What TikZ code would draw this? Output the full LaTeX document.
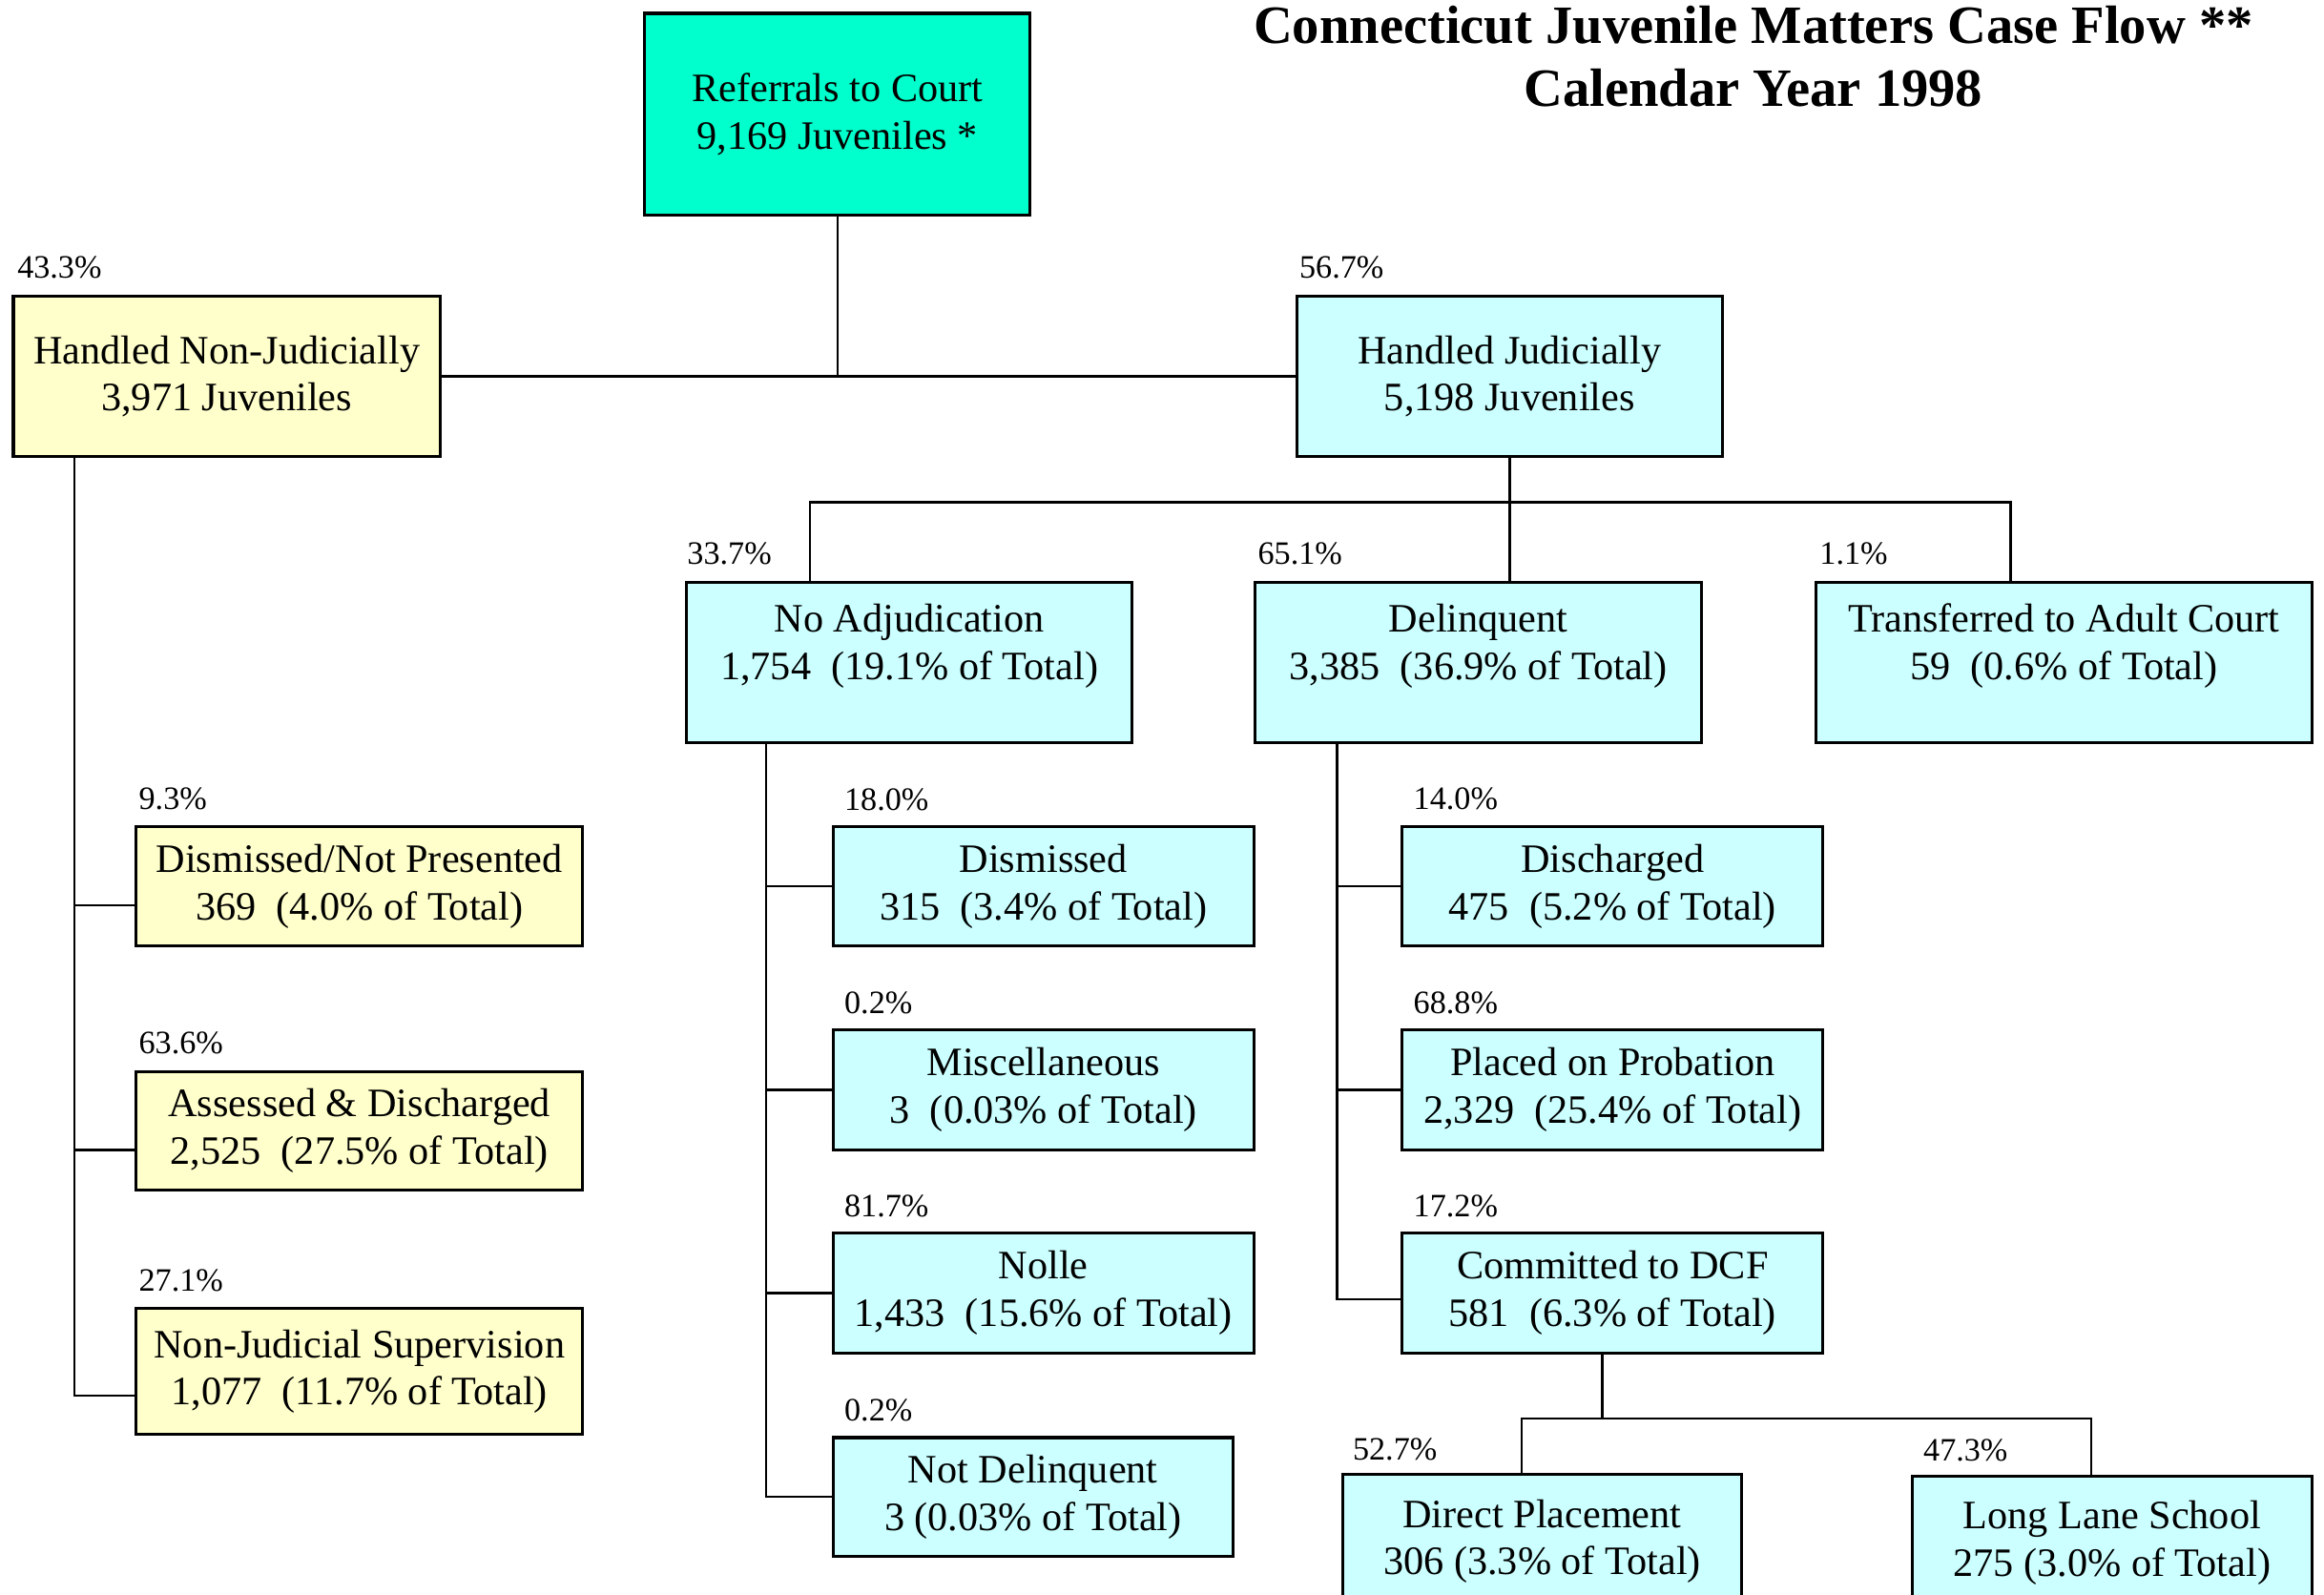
\documentclass[tikz,border=0pt]{standalone}
\usepackage{fontspec}
\setmainfont{Liberation Serif}
\usetikzlibrary{positioning,calc}
\definecolor{refgreen}{RGB}{0,255,204}
\definecolor{nonjudyellow}{RGB}{255,255,204}
\definecolor{judcyan}{RGB}{204,255,255}

\begin{document}
\begin{tikzpicture}[x=0.5pt,y=-0.5pt,line width=0.75pt,
       caja/.style={rectangle,draw,line width=1pt,align=center,inner sep=0pt,
                    font=\fontsize{13.6}{16}\selectfont},
       amarilla/.style={caja,fill=nonjudyellow},
       celeste/.style={caja,fill=judcyan},
       alta/.style={text depth=14pt},
       pct/.style={inner sep=0pt,font=\fontsize{11}{13}\selectfont}]
\useasboundingbox (0,0) rectangle (1568,1075.6);

%% Title
  \node [font=\bfseries\fontsize{18.2}{21.5}\selectfont,align=center,anchor=north,inner sep=0pt]
        (title) at (1183,3) {Connecticut Juvenile Matters Case Flow **\\Calendar Year 1998};

%% Top of the flow
  \node [caja,fill=refgreen,minimum width=130pt,minimum height=68pt] (referrals) at (565,77) {Referrals to Court\\9,169 Juveniles *};
  \node [amarilla,minimum width=144pt,minimum height=54pt] (nonjud) at (153,254) {Handled Non-Judicially\\3,971 Juveniles};
  \node [celeste,minimum width=143.5pt,minimum height=54pt] (jud) at (1018.5,254) {Handled Judicially\\5,198 Juveniles};
  \node [pct] (pnonjud) [above right=5pt and 1.5pt of nonjud.north west] {43.3\%};
  \node [pct] (pjud) [above right=5pt and 1pt of jud.north west] {56.7\%};
  \draw (nonjud.east) -- (jud.west);
  \draw (referrals.south) -- (referrals.south |- jud.west);

%% Handled judicially
  \node [celeste,alta,minimum width=150.5pt,minimum height=54pt] (noadj) at (613.5,447) {No Adjudication\\1,754\ \ (19.1\% of Total)};
  \node [celeste,alta,minimum width=150.5pt,minimum height=54pt] (delinq) at (997.5,447) {Delinquent\\3,385\ \ (36.9\% of Total)};
  \node [celeste,alta,minimum width=167.5pt,minimum height=54pt] (transf) at (1392.5,447) {Transferred to Adult Court\\59\ \ (0.6\% of Total)};
  \node [pct] (pnoadj) [above right=5pt and 0.5pt of noadj.north west] {33.7\%};
  \node [pct] (pdelinq) [above right=5pt and 1pt of delinq.north west] {65.1\%};
  \node [pct] (ptransf) [above right=5pt and 1.5pt of transf.north west] {1.1\%};
  \draw (jud.south) -- ++(0,30) coordinate (jbus);
  \draw ($(noadj.north)+(-67,0)$) |- (jbus);
  \draw ($(transf.north)+(-36,0)$) |- (jbus);
  \draw (jbus) -- (jbus |- delinq.north);

%% Handled non-judicially
  \node [amarilla,minimum width=150.5pt,minimum height=40pt] (dismnp) at (242.5,598) {Dismissed/Not Presented\\369\ \ (4.0\% of Total)};
  \node [amarilla,minimum width=150.5pt,minimum height=40pt] (assessed) at (242.5,763) {Assessed \& Discharged\\2,525\ \ (27.5\% of Total)};
  \node [amarilla,minimum width=150.5pt,minimum height=42.5pt] (njsuper) at (242.5,925.5) {Non-Judicial Supervision\\1,077\ \ (11.7\% of Total)};
  \node [pct] (pdismnp) [above right=5pt and 1pt of dismnp.north west] {9.3\%};
  \node [pct] (passessed) [above right=5pt and 1pt of assessed.north west] {63.6\%};
  \node [pct] (pnjsuper) [above right=5pt and 1pt of njsuper.north west] {27.1\%};
  \coordinate (njtop) at ($(nonjud.south west)+(42,0)$);
  \draw (njtop) |- ($(njsuper.west)+(0,16)$);
  \draw ($(dismnp.west)+(0,13)$) -- ++(-41,0);
  \draw ($(assessed.west)+(0,13)$) -- ++(-41,0);

%% No adjudication
  \node [celeste,minimum width=142pt,minimum height=40pt] (dism) at (704,598) {Dismissed\\315\ \ (3.4\% of Total)};
  \node [celeste,minimum width=142pt,minimum height=40.5pt] (misc) at (704,735.5) {Miscellaneous\\3\ \ (0.03\% of Total)};
  \node [celeste,minimum width=142pt,minimum height=40.5pt] (nolle) at (704,872.5) {Nolle\\1,433\ \ (15.6\% of Total)};
  \node [celeste,minimum width=135pt,minimum height=40pt] (notdel) at (697,1010) {Not Delinquent\\3 (0.03\% of Total)};
  \node [pct] (pdism) [above right=4.5pt and 4pt of dism.north west] {18.0\%};
  \node [pct] (pmisc) [above right=4.5pt and 4pt of misc.north west] {0.2\%};
  \node [pct] (pnolle) [above right=4.5pt and 4pt of nolle.north west] {81.7\%};
  \node [pct] (pnotdel) [above right=4.5pt and 4pt of notdel.north west] {0.2\%};
  \coordinate (natop) at ($(noadj.south west)+(55,0)$);
  \draw (natop) |- (notdel.west);
  \draw (dism.west) -- (dism.west -| natop);
  \draw (misc.west) -- (misc.west -| natop);
  \draw (nolle.west) -- (nolle.west -| natop);

%% Delinquent
  \node [celeste,minimum width=142pt,minimum height=40pt] (disch) at (1088,598) {Discharged\\475\ \ (5.2\% of Total)};
  \node [celeste,minimum width=142pt,minimum height=40.5pt] (prob) at (1088,735.5) {Placed on Probation\\2,329\ \ (25.4\% of Total)};
  \node [celeste,minimum width=142pt,minimum height=40.5pt] (dcf) at (1088,872.5) {Committed to DCF\\581\ \ (6.3\% of Total)};
  \node [pct] (pdisch) [above right=5pt and 4pt of disch.north west] {14.0\%};
  \node [pct] (pprob) [above right=4.5pt and 4pt of prob.north west] {68.8\%};
  \node [pct] (pdcf) [above right=4.5pt and 4pt of dcf.north west] {17.2\%};
  \coordinate (dltop) at ($(delinq.south west)+(56,0)$);
  \draw (dltop) |- ($(dcf.west)+(0,4)$);
  \draw (disch.west) -- (disch.west -| dltop);
  \draw (prob.west) -- (prob.west -| dltop);

%% Committed to DCF
  \node [celeste,minimum width=134.5pt,minimum height=45pt] (direct) at (1040.5,1040) {Direct Placement\\306 (3.3\% of Total)};
  \node [celeste,minimum width=135pt,minimum height=45pt] (longlane) at (1425,1041) {Long Lane School\\275 (3.0\% of Total)};
  \node [pct] (pdirect) [above right=4pt and 3.5pt of direct.north west] {52.7\%};
  \node [pct] (plonglane) [above right=4pt and 4pt of longlane.north west] {47.3\%};
  \draw ($(dcf.south)+(-7,0)$) -- ++(0,43) coordinate (dbus);
  \draw ($(direct.north)+(-14,0)$) |- (dbus);
  \draw ($(longlane.north)+(-14,0)$) |- (dbus);
\end{tikzpicture}
\end{document}
